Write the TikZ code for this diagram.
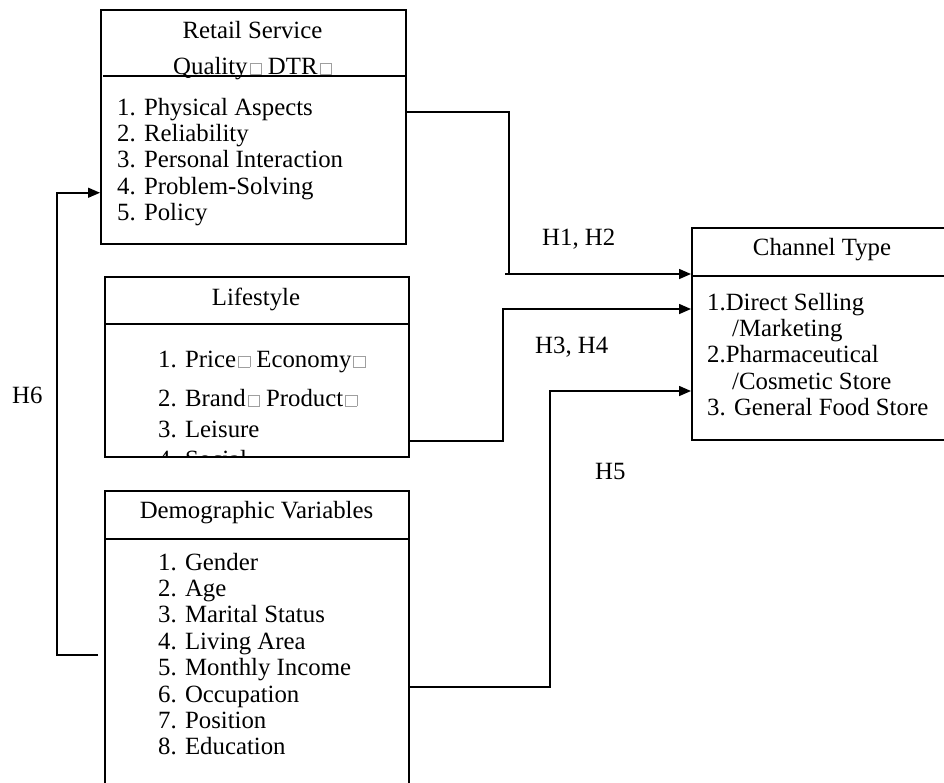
\documentclass[tikz,border=0pt]{standalone}
\usepackage{fontspec}
\setmainfont{Liberation Serif}
\usepackage{xcolor}
\usetikzlibrary{arrows.meta}

\newcommand{\boxfont}{\fontsize{24.8}{26.4}\selectfont}
\newcommand{\gapbox}{\kern2pt\textcolor{gray!75}{\fboxsep=0pt\fboxrule=0.6pt\fbox{\rule{0pt}{11pt}\hspace{11pt}}}}

\tikzstyle{frame} = [rectangle, 
draw=black, 
line width=1.5pt, 
anchor=north west, 
inner sep=0pt]
\tikzstyle{heading} = [font=\boxfont, align=center, anchor=north, inner sep=0pt]
\tikzstyle{items} = [font=\boxfont, align=left, anchor=north west, inner sep=0pt]
\tikzstyle{hyp} = [font=\boxfont, anchor=base west, inner sep=0pt]
\tikzstyle{wire} = [line width=1.5pt]
\tikzstyle{arrow} = [line width=1.5pt, -{Triangle[length=12pt, width=10pt]}]

\begin{document}
\begin{tikzpicture}[x=1pt, y=-1pt]
        \useasboundingbox (0,0) rectangle (944,782);

        % --- Cajas ---
        \node (retail) [frame, minimum width=305pt, minimum height=234pt] at (100,9) {};
        \node (lifestyle) [frame, minimum width=304pt, minimum height=180pt] at (104,276) {};
        \node (demo_vars) [frame, minimum width=304pt, minimum height=320pt] at (104,490) {};
        \node (channel) [frame, minimum width=262pt, minimum height=212pt] at (691,227) {};

        % --- Lineas divisorias ---
        \draw [wire] ([xshift=3pt, yshift=-67pt]retail.north west) -- ([xshift=-1pt, yshift=-67pt]retail.north east);
        \draw [wire] ([yshift=-48pt]lifestyle.north west) -- ([yshift=-48pt]lifestyle.north east);
        \draw [wire] ([yshift=-49pt]demo_vars.north west) -- ([yshift=-49pt]demo_vars.north east);
        \draw [wire] ([yshift=-49pt]channel.north west) -- ([yshift=-49pt]channel.north east);

        % --- Titulos ---
        \node (retail_title) [heading] at (252.5,19.5) {\strut Retail Service\\[9.6pt]Quality\gapbox\ DTR\gapbox};
        \node (life_title) [heading] at (256,286.5) {\strut Lifestyle};
        \node (demo_title) [heading] at (256.5,499.5) {\strut Demographic Variables};
        \node (channel_title) [heading] at (822,236.5) {\strut Channel Type};

        % --- Listas ---
        \node (retail_items) [items] at (117,96.5) {\strut 1. Physical Aspects\\2. Reliability\\3. Personal Interaction\\4. Problem-Solving\\5. Policy};
        \begin{scope}
            \clip (lifestyle.north west) rectangle (lifestyle.south east);
            \node (life_items) [items] at (158,348.5) {\strut 1. Price\gapbox\ Economy\gapbox\\[12.6pt]2. Brand\gapbox\ Product\gapbox\\[4.6pt]3. Leisure\\[4pt]4. Social};
        \end{scope}
        \node (demo_items) [items] at (158,551.5) {\strut 1. Gender\\2. Age\\3. Marital Status\\4. Living Area\\5. Monthly Income\\6. Occupation\\7. Position\\8. Education};
        \node (channel_items) [items] at (707,291.5) {\strut 1.Direct Selling\\\hspace*{25pt}/Marketing\\2.Pharmaceutical\\\hspace*{25pt}/Cosmetic Store\\3. General Food Store};

        % --- Puntos de quiebre ---
        \coordinate (h12) at (509,274);
        \coordinate (h34) at (503,309);
        \coordinate (h5) at (550,391);

        % --- Conexiones hacia Channel Type ---
        \draw [wire] ([yshift=15pt]retail.east) -| (h12);
        \draw [arrow] ([xshift=-4pt]h12) -- (h12 -| channel.west);
        \draw [arrow] ([yshift=-74pt]lifestyle.east) -| (h34) -- (h34 -| channel.west);
        \draw [arrow] ([yshift=-36pt]demo_vars.east) -| (h5) -- (h5 -| channel.west);

        % --- Retorno (Lado Izquierdo) ---
        \draw [arrow] ([xshift=-6pt, yshift=-4pt]demo_vars.west) -- ++(-41,0) |- ([yshift=-66pt]retail.west);

        % --- Etiquetas ---
        \node (lbl_h12) [hyp] at (542,245) {H1, H2};
        \node (lbl_h34) [hyp] at (535,353) {H3, H4};
        \node (lbl_h5) [hyp] at (595,479) {H5};
        \node (lbl_h6) [hyp] at (12,403) {H6};

\end{tikzpicture}
\end{document}
